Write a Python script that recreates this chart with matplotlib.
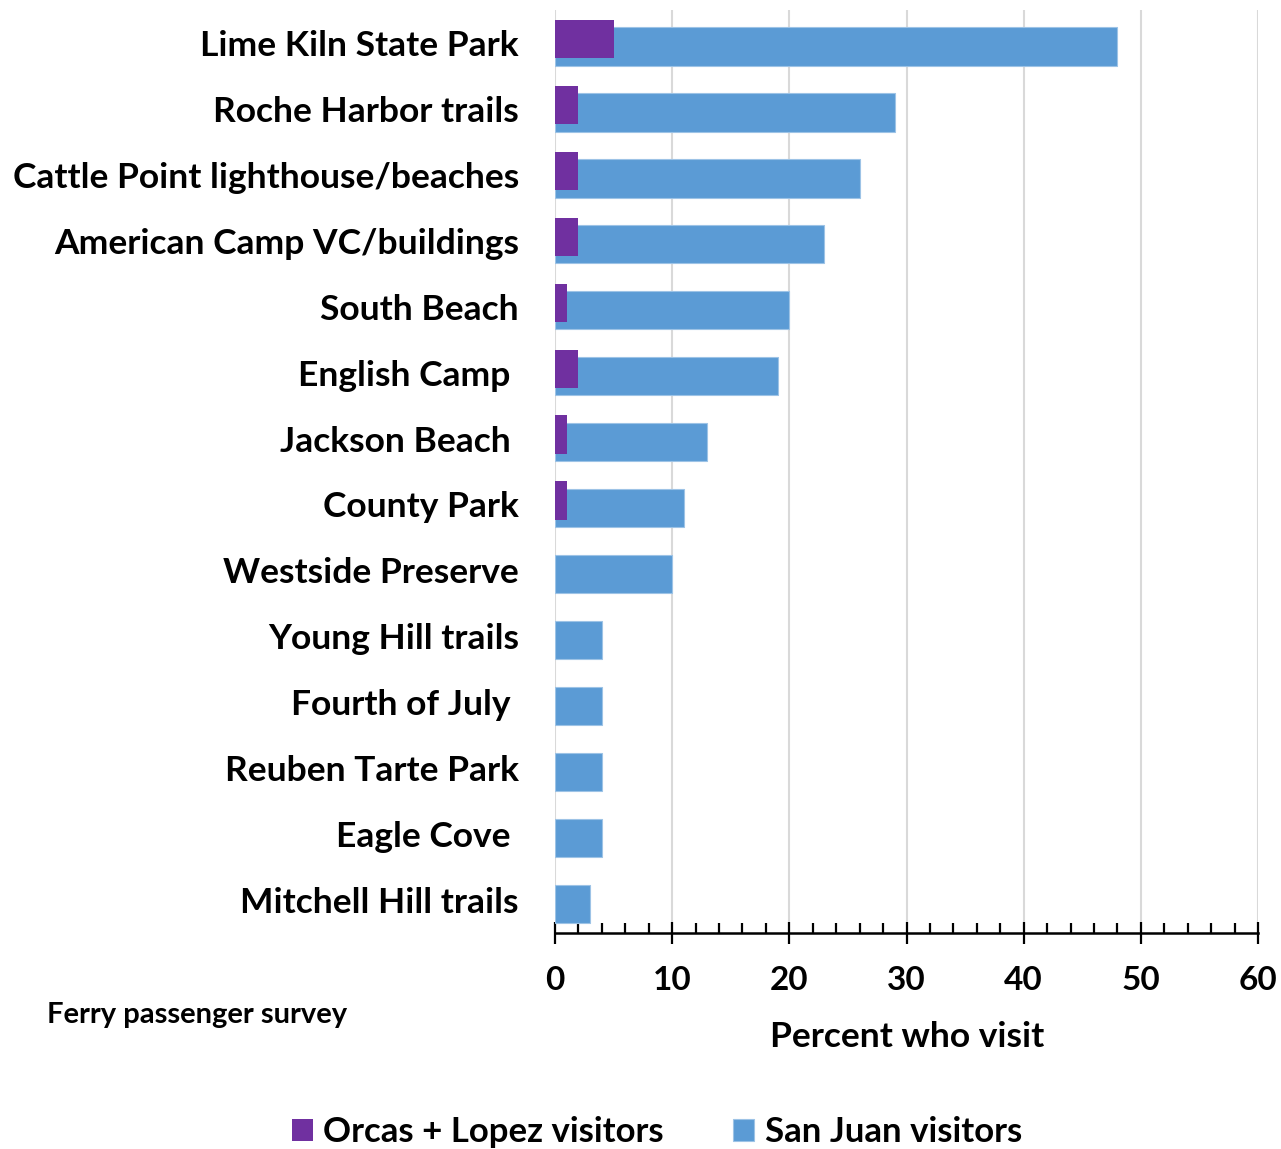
import matplotlib
matplotlib.use("Agg")
import matplotlib.pyplot as plt
from matplotlib.ticker import MultipleLocator
import numpy as np

categories = ["Lime Kiln State Park", "Roche Harbor trails", "Cattle Point lighthouse/beaches",
              "American Camp VC/buildings", "South Beach", "English Camp ", "Jackson Beach ",
              "County Park", "Westside Preserve", "Young Hill trails", "Fourth of July ",
              "Reuben Tarte Park", "Eagle Cove ", "Mitchell Hill trails"]
san_juan = [48, 29, 26, 23, 20, 19, 13, 11, 10, 4, 4, 4, 4, 3]
orcas_lopez = [5, 2, 2, 2, 1, 2, 1, 1, 0, 0, 0, 0, 0, 0]
xticks = [0, 10, 20, 30, 40, 50, 60]

FONT = ["Lato", "DejaVu Sans"]
plt.rcParams['font.family'] = FONT

fig = plt.figure(figsize=(12.81, 11.49), dpi=100)
ax = fig.add_axes([555/1281, 1-933/1149, (1258-555)/1281, 923/1149])

y = np.arange(len(categories))
h = 0.58
ax.barh(y + 0.055, san_juan, height=h, color="#5B9BD5", edgecolor="#9DC3E6", linewidth=0.8,
        label="San Juan visitors", zorder=2)
ax.barh(y - 0.06, orcas_lopez, height=h, color="#7030A0", linewidth=0,
        label="Orcas + Lopez visitors", zorder=3)

ax.set_ylim(len(categories) - 0.5, -0.5)
ax.set_xlim(0, 60)
ax.set_yticks(y)
ax.set_yticklabels(categories, fontsize=25.5, fontweight="bold")
ax.tick_params(axis="y", length=0, pad=26)
ax.set_xticks(xticks)
ax.set_xticklabels([str(v) for v in xticks], fontsize=24, fontweight="bold")
ax.xaxis.set_minor_locator(MultipleLocator(2))
ax.tick_params(axis="x", which="major", direction="inout", length=16, width=1.6, pad=16)
ax.tick_params(axis="x", which="minor", direction="in", length=7, width=1.6)
ax.grid(axis="x", color="#D9D9D9", linewidth=1.5, zorder=0)
ax.set_axisbelow(True)
for s in ["top", "right", "left"]:
    ax.spines[s].set_visible(False)
ax.spines["bottom"].set_linewidth(1.8)

fig.text(907/1281, 1-1037/1149, "Percent who visit", fontsize=25.5, fontweight="bold",
         ha="center", va="center")
fig.text(47/1281, 1-1015/1149, "Ferry passenger survey", fontsize=21, fontweight="bold",
         ha="left", va="center")

handles, labels = ax.get_legend_handles_labels()
fig.legend(handles[::-1], labels[::-1], loc="center", bbox_to_anchor=(657/1281, 1-1132/1149),
           ncol=2, frameon=False, prop={"family": FONT, "weight": "bold", "size": 25},
           handlelength=0.6, handleheight=0.6, handletextpad=0.3, columnspacing=2.0)

fig.savefig("out.png", dpi=100)
